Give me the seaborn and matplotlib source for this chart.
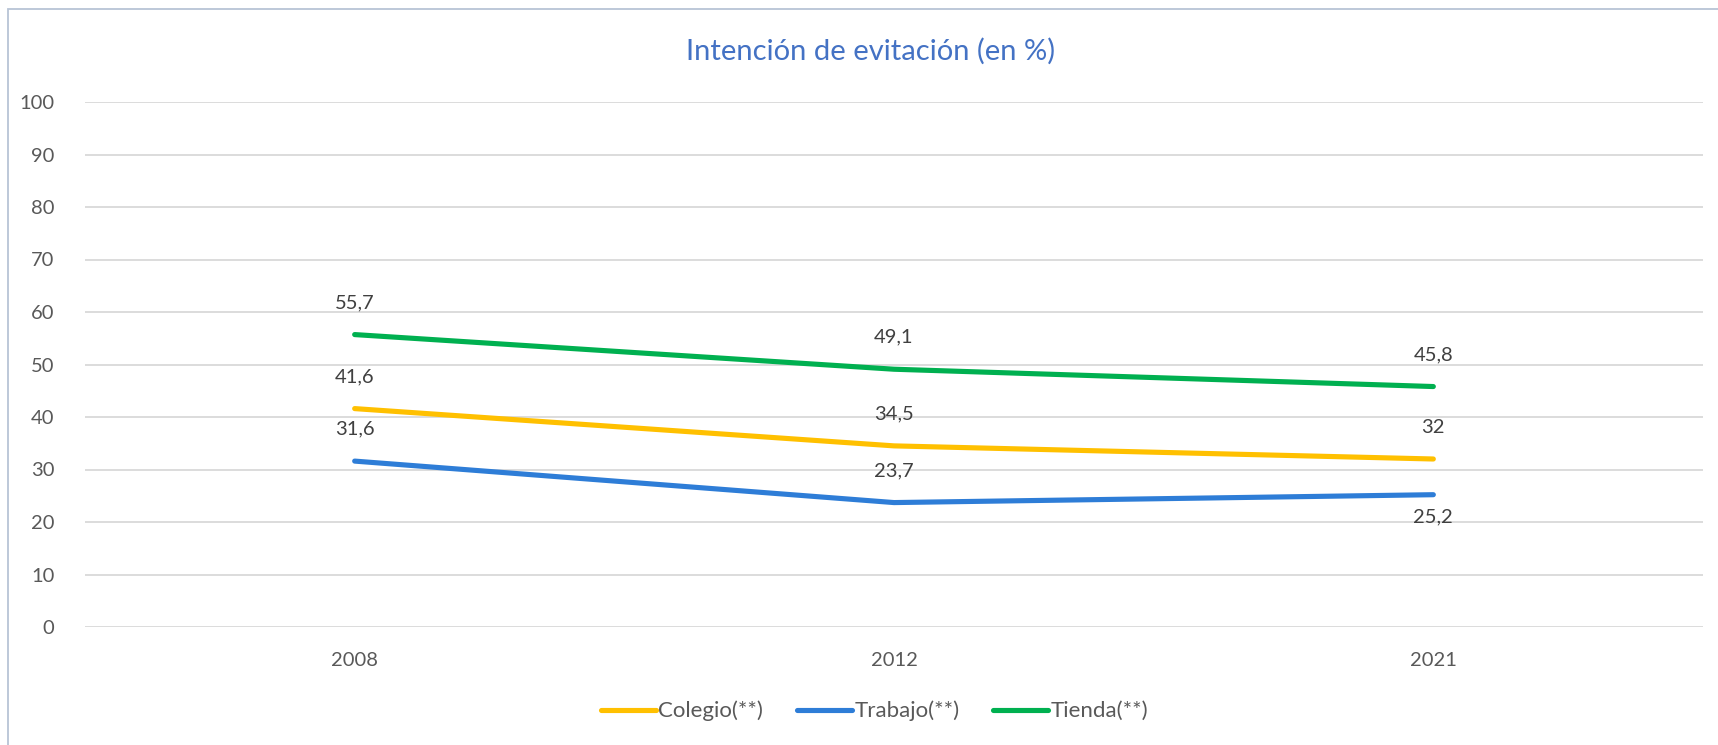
import matplotlib
matplotlib.use("Agg")
import matplotlib.pyplot as plt
import seaborn as sns
import pandas as pd
from matplotlib.patches import Rectangle

# data
years = ["2008", "2012", "2021"]
colegio = [41.6, 34.5, 32.0]
trabajo = [31.6, 23.7, 25.2]
tienda = [55.7, 49.1, 45.8]
series_names = ["Colegio(**)", "Trabajo(**)", "Tienda(**)"]
label_side = {
    "Colegio(**)": ["above", "above", "above"],
    "Trabajo(**)": ["above", "above", "below"],
    "Tienda(**)": ["above", "above", "above"],
}
colors = ["#FFC000", "#2E7DD7", "#00B050"]

df = pd.DataFrame({
    "year": years * 3,
    "value": colegio + trabajo + tienda,
    "serie": [s for s in series_names for _ in years],
})

sns.set_style("white")
plt.rcParams["font.family"] = ["Lato", "DejaVu Sans"]

fig = plt.figure(figsize=(17.18, 7.45), dpi=100)
ax = fig.add_axes([85 / 1718, 1 - 627 / 745, (1703 - 85) / 1718, (627 - 102) / 745])

sns.lineplot(data=df, x="year", y="value", hue="serie", palette=colors,
             linewidth=3.7, ax=ax, sort=False, solid_capstyle="round")

# data labels
for name, vals in zip(series_names, [colegio, trabajo, tienda]):
    for i, v in enumerate(vals):
        txt = f"{v:g}".replace(".", ",")
        off = 23 if label_side[name][i] == "above" else -16
        ax.annotate(txt, (i, v), xytext=(0, off), textcoords="offset points",
                    ha="center", va="center", fontsize=14.5, color="#404040")

ax.set_xlim(-0.5, 2.5)
ax.set_ylim(0, 100)
ax.set_yticks(range(0, 101, 10))
ax.yaxis.grid(True, color="#D9D9D9", linewidth=1.3)
ax.set_axisbelow(True)
for sp in ax.spines.values():
    sp.set_visible(False)
ax.tick_params(axis="both", length=0, labelsize=14.5, labelcolor="#595959")
ax.tick_params(axis="y", pad=22)
ax.tick_params(axis="x", pad=18)
ax.set_xlabel("")
ax.set_ylabel("")

ax.legend_.remove()
handles, labels = ax.get_legend_handles_labels()
fig.legend(handles, labels, loc="center", bbox_to_anchor=(0.509, 1 - 711 / 745),
           ncol=3, frameon=False, fontsize=16, handlelength=2.5, handletextpad=0.1,
           columnspacing=1.5, labelcolor="#595959")

fig.suptitle("Intención de evitación (en %)", x=871 / 1718, y=1 - 51 / 745,
             va="center", fontsize=21, color="#4472C4")

fig.patches.append(Rectangle((8 / 1718, -0.1), 1.2, 1 - 9 / 745 + 0.1,
                             transform=fig.transFigure, fill=False,
                             edgecolor="#B8C4D6", linewidth=1.3))

fig.savefig("out.png", dpi=100)
